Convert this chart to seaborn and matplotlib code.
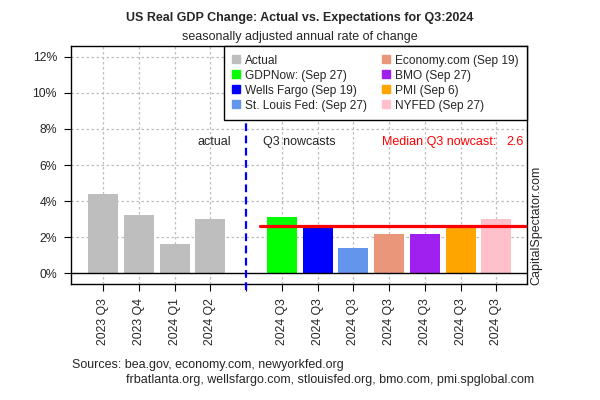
import numpy as np
import pandas as pd
import matplotlib
matplotlib.use("Agg")
import matplotlib.pyplot as plt
from matplotlib.lines import Line2D
import seaborn as sns

# -------------------------- data --------------------------
actual_labels = ["2023 Q3", "2023 Q4", "2024 Q1", "2024 Q2"]
actual_values = [4.4, 3.2, 1.6, 3.0]

nowcast_names = ["GDPNow", "Wells Fargo", "St. Louis Fed", "Economy.com", "BMO", "PMI", "NYFED"]
nowcast_dates = ["(Sep 27)", "(Sep 19)", "(Sep 27)", "(Sep 19)", "(Sep 27)", "(Sep 6)", "(Sep 27)"]
nowcast_values = [3.1, 2.6, 1.4, 2.2, 2.2, 2.6, 3.0]
nowcast_label = "2024 Q3"

colors = {
    "Actual": "#BEBEBE",
    "GDPNow": "#00FF00",
    "Wells Fargo": "#0000FF",
    "St. Louis Fed": "#6495ED",
    "Economy.com": "#E9967A",
    "BMO": "#A020F0",
    "PMI": "#FFA500",
    "NYFED": "#FFC0CB",
}

# -------------------------- build table --------------------------
n_act = len(actual_values)
xpos = list(range(n_act)) + [n_act + 1 + i for i in range(len(nowcast_values))]
df = pd.DataFrame({
    "x": xpos,
    "value": actual_values + nowcast_values,
    "source": ["Actual"] * n_act + nowcast_names,
})
median_now = float(np.median(nowcast_values))

sns.set_theme(style="white")
plt.rcParams["font.family"] = ["Liberation Sans", "DejaVu Sans"]

fig = plt.figure(figsize=(6, 4), dpi=100)
ax = fig.add_axes([0.1183, 0.29, 0.76, 0.595])

sns.barplot(data=df, x="x", y="value", hue="source", palette=colors,
            native_scale=True, dodge=False, width=0.84, saturation=1,
            linewidth=0, legend=False, ax=ax, zorder=2)

ax.set_xlim(-0.9, 11.86)
ax.set_ylim(-0.6, 12.6)

# ticks + grid
ax.set_yticks(np.arange(0, 13, 2))
ax.set_yticklabels([f"{v}%" for v in range(0, 13, 2)])
ax.set_xticks(xpos + [n_act])
ax.set_xticklabels(actual_labels + [nowcast_label] * len(nowcast_values) + [""],
                   rotation=90)
for y in range(2, 13, 2):
    ax.axhline(y, color="#BEBEBE", lw=0.9, ls=(0, (2, 2)), zorder=0)
for x in xpos:
    ax.axvline(x, color="#BEBEBE", lw=0.9, ls=(0, (2, 2)), zorder=0)
ax.axhline(0, color="black", lw=1, zorder=3)

# divider between actual and nowcasts
ax.axvline(n_act, ymin=-0.027, ymax=1, color="blue", lw=1.6, ls=(0, (3.5, 2)),
           clip_on=False, zorder=3)
ax.xaxis.get_major_ticks()[-1].tick1line.set_visible(False)

# median line
ax.plot([n_act + 0.4, 12.5], [median_now, median_now], color="red", lw=2.3, zorder=4)

ax.tick_params(axis="both", direction="out", length=5, width=0.8, color="black",
               labelsize=8.8, bottom=True, left=True)
ax.tick_params(axis="x", pad=5)
ax.tick_params(axis="y", pad=5)
ax.set_xlabel("")
ax.set_ylabel("")
for s in ax.spines.values():
    s.set_color("black")
    s.set_linewidth(1)

# annotations
ax.text(3.1, 7.3, "actual", ha="center", va="center", fontsize=9)
ax.text(4.48, 7.3, "Q3 nowcasts", ha="left", va="center", fontsize=9)
ax.text(7.81, 7.3, "Median Q3 nowcast:", ha="left", va="center", fontsize=9, color="red")
ax.text(11.28, 7.3, f"{median_now:.1f}", ha="left", va="center", fontsize=9, color="red")

# legend
handles = [Line2D([], [], ls="none", marker="s", markersize=6, color=colors["Actual"])]
labels = ["Actual"]
for name, date in zip(nowcast_names, nowcast_dates):
    handles.append(Line2D([], [], ls="none", marker="s", markersize=6, color=colors[name]))
    sep = ":" if name in ("GDPNow", "St. Louis Fed") else ""
    labels.append(f"{name}{sep} {date}")
leg = ax.legend(handles, labels, ncol=2, loc="upper right", bbox_to_anchor=(1, 1),
                borderaxespad=0, fontsize=8.6, frameon=True, fancybox=False,
                framealpha=1, edgecolor="black", handlelength=0.6, handletextpad=0.45,
                columnspacing=1.3, labelspacing=0.25, borderpad=0.72)
leg.get_frame().set_linewidth(1)
leg.set_zorder(10)

# titles and footer
fig.text(0.5, 0.955, "US Real GDP Change: Actual vs. Expectations for Q3:2024",
         ha="center", va="center", fontsize=9, fontweight="bold")
fig.text(0.5, 0.9075, "seasonally adjusted annual rate of change",
         ha="center", va="center", fontsize=9)
fig.text(0.8945, 0.2875, "CapitalSpectator.com", rotation=90, ha="center", va="bottom",
         fontsize=9)
fig.text(0.12, 0.0875, "Sources: bea.gov, economy.com, newyorkfed.org",
         ha="left", va="center", fontsize=9)
fig.text(0.21, 0.05, "frbatlanta.org, wellsfargo.com, stlouisfed.org, bmo.com, pmi.spglobal.com",
         ha="left", va="center", fontsize=9)

fig.savefig("out.png", dpi=100)
